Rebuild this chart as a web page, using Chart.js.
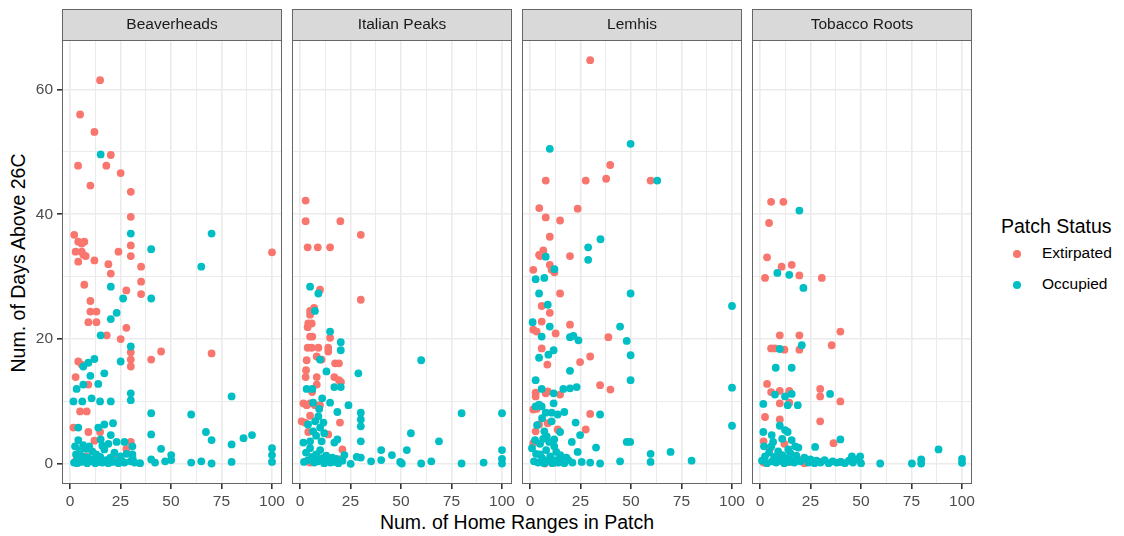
<!DOCTYPE html>
<html lang="en">
<head>
<meta charset="UTF-8">
<title>Patch Status by Range</title>
<script src="https://cdn.jsdelivr.net/npm/chart.js"></script>
<style>
    * { margin: 0; padding: 0; box-sizing: border-box; }
    body {
        width: 1124px;
        height: 536px;
        background: #ffffff;
        position: relative;
        overflow: hidden;
        font-family: "Liberation Sans", Arial, sans-serif;
    }
    canvas.panel { position: absolute; top: 0; }
    .x-title {
        position: absolute; left: 62px; width: 910px; top: 511px;
        text-align: center; font-size: 19.5px; color: #000; line-height: 22px;
    }
    .y-title {
        position: absolute; left: 18px; top: 263px;
        transform: translate(-50%, -50%) rotate(-90deg);
        white-space: nowrap; font-size: 19.5px; color: #000; line-height: 22px;
    }
    .legend { position: absolute; left: 1001px; top: 215px; }
    .legend .title { font-size: 19.5px; line-height: 22px; color: #000; }
    .legend .item { position: relative; height: 31px; font-size: 15.5px; color: #000; }
    .legend .dot {
        position: absolute; left: 12px; width: 7.8px; height: 7.8px; border-radius: 50%;
    }
    .legend .lbl { position: absolute; left: 41px; }
</style>
</head>
<body>

<div class="x-title">Num. of Home Ranges in Patch</div>
<div class="y-title">Num. of Days Above 26C</div>
<div class="legend">
    <div class="title">Patch Status</div>
    <div class="item" style="top:6px"><span class="dot" style="top:7px;background:#F8766D"></span><span class="lbl" style="top:1px">Extirpated</span></div>
    <div class="item" style="top:6px"><span class="dot" style="top:7px;background:#00BFC4"></span><span class="lbl" style="top:1px">Occupied</span></div>
</div>

<script>
    // facet names
    const ranges = ['Beaverheads', 'Italian Peaks', 'Lemhis', 'Tobacco Roots'];

    // axis ticks (major labelled, minor gridlines only)
    const xMajor = [0, 25, 50, 75, 100];
    const xMinor = [12.5, 37.5, 62.5, 87.5];
    const yMajor = [0, 20, 40, 60];
    const yMinor = [10, 30, 50];

    // [home ranges, days above 26C]
    const beaverheadsExtirpated = [
        [14.9,61.5],[5,56],[12.1,53.2],[20.2,49.5],[4,47.8],[18,47.8],[25.1,46.6],[10.1,44.6],[30.1,43.6],
        [30.1,39.6],[2.1,36.7],[4.1,35.6],[7.1,35.6],[5.8,35.3],[30.1,35],[2.8,34],[5.8,34],[24,34],
        [100,33.9],[7.8,33.3],[30.1,33.3],[12.1,32.6],[6.6,33.5],[4.1,32.4],[19,32],[20.2,30.5],[35.2,31.6],
        [7.1,28.7],[35.2,29.2],[27.9,27.8],[35.2,27.2],[10.1,26.1],[10.1,24.4],[13.1,24.4],[9.1,22.7],
        [13.1,22.7],[27.9,21.8],[18.2,20.6],[25.1,20],[30.1,17.9],[30.1,16.7],[30.1,15.6],[45.1,18],
        [70.1,17.7],[40.2,16.7],[4.1,16.4],[5.8,15.9],[2.8,13.9],[9.1,12.7],[5,8.4],[8.3,8.4],[1.7,5.8],
        [9.1,5.1],[14.9,5.1],[12.1,3.7],[30.1,3.5],[27.9,2.4],[3,0.5],[8,1.2],[15,0.3],[22,0.8]
    ];
    const beaverheadsOccupied = [
        [15.2,49.6],[30.1,36.9],[70.1,36.9],[40.2,34.4],[65,31.6],[20.2,28.4],[26.3,26.5],[40.2,26.5],
        [23.1,24.2],[20.2,23.2],[15.2,20.6],[30.1,18.8],[25.1,16.4],[12.1,16.8],[9.1,16.2],[6.6,15.6],
        [17,14.5],[10.1,14.1],[3.3,12],[6.6,12.7],[14,12.8],[30.1,11.3],[30.1,10.2],[80,10.8],[1.7,10],
        [6.1,10],[10.7,10.5],[14.9,10],[20.2,10],[40.2,8.1],[60,7.9],[4.1,5.8],[14,5.8],[17,6.3],[21.3,6.5],
        [40.2,4.7],[67.3,5.1],[20.2,4.6],[15.2,3.9],[23.1,3.5],[70.1,3.8],[90.1,4.6],[85.9,4.1],[80,3.1],
        [4.1,3.8],[100,2.5],[100,1.4],[100,0.3],[45.1,2.4],[30.9,2.8],[30.9,1.5],[50.1,1.4],[60,0.2],
        [65,0.4],[70.1,0.05],[80,0.3],[40.2,0.7],[42.1,0.2],[47.1,0.4],[50.1,0.6],[34.7,0.1],
        [2,0.2],[3,1.5],[4,0.8],[5,2.2],[5.5,0.3],[6,1.2],[7,0.5],[8,2.4],[8.5,0.1],[9,1],[10,0.4],[11,2],
        [12,0.8],[12.5,0.1],[13,1.5],[14,0.3],[15,1.1],[16,0.2],[17,2.3],[18,0.6],[19,0.1],[20,1],[21,0.3],
        [22,1.8],[23,0.5],[24,0.1],[25,1.2],[26,0.4],[27,0.2],[28,1.6],[30,0.4],[31,0.9],[32,0.2],[3.5,0.1],
        [6.5,3],[9.5,2.8],[16,2.9],[19,3.2],[27,3.5],[2.5,2.8]
    ];

    const italianPeaksExtirpated = [
        [2.8,42.2],[2.8,38.9],[20,38.9],[30.1,36.7],[3.8,34.7],[8.8,34.7],[14.9,34.7],[9.9,27.9],[30.1,26.3],
        [5,24.5],[5,23.9],[4.1,22.5],[5.8,22.5],[3.8,21.9],[5,20.4],[6.1,20.4],[14.9,20.2],[3.8,18.6],
        [5.8,18.6],[9.1,18.6],[14,18.6],[14,18],[3.3,16.6],[8.3,17.2],[10.7,16.7],[17.4,16.1],[19.3,16.1],
        [2.8,13.9],[8.3,13.9],[17,13.9],[19.3,13.4],[20.3,13.1],[8.3,12.7],[1.7,9.7],[5,9.7],[3.3,9.4],
        [7.4,9.4],[9.9,9.4],[0.8,6.8],[2.5,6.6],[5,7.7],[19.8,6.6],[21,2.3],[19.8,0.7],[5,0.2],[9.1,0.8],
        [4.1,5.1],[14,4.7],[6,11.5],[3,15],[7,25]
    ];
    const italianPeaksOccupied = [
        [5,28.4],[9.1,27.3],[7.4,24.5],[14.9,21.2],[20.2,19.5],[20.2,18.2],[60,16.6],[28.9,14.5],[13.1,14.8],
        [9.9,16.7],[3.3,12],[6.1,12],[17,12.3],[20.2,12.3],[14.9,9.8],[24,9.4],[80,8.1],[100,8.1],[30.1,8.2],
        [30.1,7.1],[30.1,6],[18.5,8.3],[9.1,7.6],[11.6,6.6],[54.9,4.9],[68.8,3.6],[30.1,3.6],[17,3.4],
        [18.5,3.9],[10.7,3.6],[1.7,3.4],[5,3.6],[40.2,2.2],[52.9,2.2],[100,2.2],[45.5,1.4],[100,0.8],
        [100,0.05],[49.6,0.3],[50.4,0.05],[60,0.05],[65,0.4],[80,0.05],[90.9,0.2],[35.2,0.4],[40.2,0.6],
        [25.1,0],[28.1,1.1],[30.1,1],
        [2,0.3],[3,1.8],[4,0.6],[5,2.5],[6,1.1],[7,0.2],[8,1.5],[9,0.4],[10,2.2],[11,0.9],[12,0.1],[13,1.3],
        [14,0.5],[15,0.2],[16,1],[17,0.3],[18,0.8],[19,0.1],[21,0.5],[22,1.4],[6.5,5.2],[8,4.5],[10,5.8],
        [12,4.9],[4,6.3],[7.5,6.8],[9.5,8.8],[11,10.5],[6.5,9.8]
    ];

    const lemhisExtirpated = [
        [29.8,64.7],[39.7,47.9],[7.8,45.4],[27.6,45.4],[37.7,45.7],[59.7,45.4],[4.6,41],[23.6,40.9],[7.8,39.5],
        [14.9,39],[9.8,36.4],[6.6,34.2],[5,33.3],[7.4,33.3],[19.8,33.3],[4.5,33.5],[9.8,31.9],[10.7,31.1],
        [12.1,30.7],[1.65,31.1],[14.9,27.3],[5.8,25.3],[9.8,24.2],[5.8,22.8],[19.8,22.3],[1.65,21.5],
        [3.3,21.2],[12.7,20.9],[38.8,20.3],[5.8,18.5],[29.8,17.2],[24.8,16.3],[8.6,15.9],[34.7,12.6],
        [39.8,11.9],[2.8,11.4],[2.8,10.8],[7.8,11.3],[8.8,11.6],[14.9,11.1],[1.65,8.7],[3.3,8.8],[29.8,8],
        [4.5,6.3],[8.8,6.5],[13.7,5.5],[2.8,5.2],[27.6,5.5],[1.65,3.3],[12.7,0.2],[7.4,0.05]
    ];
    const lemhisOccupied = [
        [9.8,50.5],[49.8,51.3],[63,45.4],[34.9,36],[28.8,34.7],[28.8,32.7],[7.8,33.2],[12.1,31.2],[7.1,29.8],
        [2.8,29.6],[4.5,27.3],[49.8,27.3],[100,25.3],[8.8,25.5],[1.3,22.7],[9.8,22],[44.6,22],[5.8,20.4],
        [19.8,20.3],[21.5,20.5],[24,19.8],[47.9,19.7],[11.7,18.2],[9.1,17.5],[4.5,17],[49.8,17.4],[19.8,14.9],
        [49.8,13.4],[2.8,13.4],[100,12.2],[5.8,12],[16.5,12],[19.8,12.1],[23.1,12.3],[11.7,11.3],[4.5,9.5],
        [2.8,9.2],[5.8,9.2],[11.7,9.7],[7.8,8.2],[10.7,8.2],[13.7,7.9],[17,8.3],[34.7,7.9],[10.7,6.8],
        [22.6,6.6],[100,6.1],[14.9,5.1],[24.8,4.6],[7.1,5.2],[8.3,4.4],[20.7,3.5],[47.9,3.5],[49.6,3.5],
        [32.7,2.6],[23.6,1.9],[59.7,1.6],[69.6,1.9],[80,0.5],[59.7,0.3],[44.6,0.4],[34.7,0.05],[29.8,0.2],
        [25.6,0.3],[19,0.6],
        [1,2.5],[2,0.4],[3,1.6],[4,0.2],[5,3.2],[6,0.9],[7,0.1],[8,2.2],[9,0.5],[10,1.2],[11,0.1],[12,2.8],
        [13,0.6],[14,0.2],[15,1.4],[16,0.4],[17,0.1],[18,1],[2.5,3.8],[6.5,4],[9.5,3.5],[12,3.9],[5,1.5],
        [13,1.9],[21,0.2],[3.5,6.2],[6,7.3]
    ];

    const tobaccoRootsExtirpated = [
        [5.5,42],[11.6,42],[4.5,38.6],[3.5,33.1],[10.7,31.6],[15.7,31.9],[2.5,29.8],[19.5,30.2],[30.6,29.8],
        [39.8,21.2],[9.8,20.6],[19.5,20.6],[35.5,19],[5.5,18.5],[7.4,18.5],[12.1,18.3],[19.5,18.3],[3.5,12.8],
        [5.5,11.5],[9.8,11.7],[14.5,11.7],[29.8,12],[29.8,10.8],[39.8,10],[9.8,9.7],[14.5,9.8],[2.5,7.5],
        [9.8,7.1],[29.8,6.8],[1.8,3.6],[12.1,3.2],[36.4,3.3],[29.8,0.3],[1.8,0.2],[10.7,0.4],[14.9,0.3],
        [5,2.5],[8,1],[20,0.6],[22,0.1],[40,0.3]
    ];
    const tobaccoRootsOccupied = [
        [19.5,40.6],[8.6,30.6],[14.5,30.3],[21.5,28.2],[20.7,19],[9.8,18.4],[7.8,15.4],[15.7,15.4],[7.4,11.1],
        [12.4,10.8],[15.7,11.2],[34.7,11.2],[1.65,9.6],[13.7,9.4],[18.7,9.4],[9.8,6.1],[12.4,5.4],[13.7,5.1],
        [1.65,5.1],[5.8,4.6],[15.7,3.8],[39.8,3.9],[27.3,2.7],[88.4,2.3],[2,2.8],[5.6,2.8],[17.4,2.8],[19,2.6],
        [45.5,1.2],[49.6,1.2],[59.5,0.05],[75.2,0.05],[79.8,0.7],[79.8,0.05],[100,0.8],[100,0.16],
        [1,0.5],[2.5,1.2],[3.5,0.1],[4.5,1.8],[6,0.4],[7,1.1],[8,0.2],[9,2],[10,0.6],[11,1.4],[12,0.1],[13,0.9],
        [14,0.3],[15,1.7],[16,0.5],[17,0.2],[18,1.3],[20,0.4],[22,1],[24,0.2],[25,0.7],[27,0.1],[28,0.5],
        [30,0.2],[32,0.6],[34,0.1],[36,0.4],[38,0.2],[40,0.3],[42,0.1],[44,0.5],[46,0.2],[48,0.7],[50,0.1],
        [6.5,3.5],[11,4],[14,2.3]
    ];

    const extirpatedByRange = [beaverheadsExtirpated, italianPeaksExtirpated, lemhisExtirpated, tobaccoRootsExtirpated];
    const occupiedByRange = [beaverheadsOccupied, italianPeaksOccupied, lemhisOccupied, tobaccoRootsOccupied];

    Chart.defaults.font.family = '"Liberation Sans", Arial, sans-serif';

    // panel frame + grey facet strip on top
    const facetFrame = {
        id: 'facetFrame',
        afterDraw(chart, args, opts) {
            const ctx = chart.ctx, a = chart.chartArea;
            ctx.save();
            ctx.strokeStyle = '#666';
            ctx.lineWidth = 1;
            ctx.strokeRect(a.left + 0.5, a.top + 0.5, a.width - 1, a.height - 1);
            ctx.fillStyle = '#D9D9D9';
            ctx.fillRect(a.left, a.top - 31, a.width, 31);
            ctx.strokeRect(a.left + 0.5, a.top - 30.5, a.width - 1, 31);
            ctx.fillStyle = '#1A1A1A';
            ctx.font = '15.5px "Liberation Sans", Arial, sans-serif';
            ctx.textAlign = 'center';
            ctx.textBaseline = 'middle';
            ctx.fillText(opts.title, (a.left + a.right) / 2, a.top - 15);
            ctx.restore();
        }
    };

    const panelLefts = [62, 292, 522, 752];
    const panelWidth = 220;

    ranges.forEach(function (name, i) {
        const canvas = document.createElement('canvas');
        canvas.className = 'panel';
        canvas.width = 60 + panelWidth + 14;
        canvas.height = 520;
        canvas.style.left = (panelLefts[i] - 60) + 'px';
        document.body.appendChild(canvas);
        const first = i === 0;

        new Chart(canvas.getContext('2d'), {
            type: 'scatter',
            data: {
                datasets: [{
                    label: 'Extirpated',
                    data: extirpatedByRange[i].map(p => ({ x: p[0], y: p[1] })),
                    backgroundColor: '#F8766D',
                    pointRadius: 3.9,
                    pointBorderWidth: 0,
                    order: 1
                }, {
                    label: 'Occupied',
                    data: occupiedByRange[i].map(p => ({ x: p[0], y: p[1] })),
                    backgroundColor: '#00BFC4',
                    pointRadius: 3.9,
                    pointBorderWidth: 0,
                    order: 0
                }]
            },
            options: {
                responsive: false,
                animation: false,
                devicePixelRatio: 1,
                layout: { padding: { top: 40, right: 14, left: 0, bottom: 0 } },
                plugins: {
                    legend: { display: false },
                    tooltip: { enabled: false },
                    facetFrame: { title: name }
                },
                scales: {
                    x: {
                        type: 'linear',
                        min: -3.95,
                        max: 104.95,
                        border: { display: false },
                        afterBuildTicks: s => { s.ticks = xMajor.concat(xMinor).sort((a, b) => a - b).map(v => ({ value: v })); },
                        afterFit: s => { s.height = 36; s.paddingLeft = 0; s.paddingRight = 0; },
                        grid: {
                            color: '#EBEBEB',
                            lineWidth: c => xMajor.includes(c.tick.value) ? 1.6 : 1,
                            tickLength: 5,
                            tickColor: c => xMajor.includes(c.tick.value) ? '#333' : 'rgba(0,0,0,0)'
                        },
                        ticks: {
                            autoSkip: false,
                            maxRotation: 0,
                            padding: 3,
                            color: '#4D4D4D',
                            font: { size: 15.5 },
                            callback: v => xMajor.includes(v) ? String(v) : ''
                        }
                    },
                    y: {
                        type: 'linear',
                        min: -3.24,
                        max: 67.94,
                        border: { display: false },
                        afterBuildTicks: s => { s.ticks = yMajor.concat(yMinor).sort((a, b) => a - b).map(v => ({ value: v })); },
                        afterFit: s => { s.width = 60; s.paddingTop = 0; s.paddingBottom = 0; },
                        grid: {
                            color: '#EBEBEB',
                            lineWidth: c => yMajor.includes(c.tick.value) ? 1.6 : 1,
                            tickLength: 5,
                            tickColor: c => (first && yMajor.includes(c.tick.value)) ? '#333' : 'rgba(0,0,0,0)'
                        },
                        ticks: {
                            autoSkip: false,
                            padding: 4,
                            color: '#4D4D4D',
                            font: { size: 15.5 },
                            callback: v => (first && yMajor.includes(v)) ? String(v) : ''
                        }
                    }
                }
            },
            plugins: [facetFrame]
        });
    });
</script>

</body>
</html>
